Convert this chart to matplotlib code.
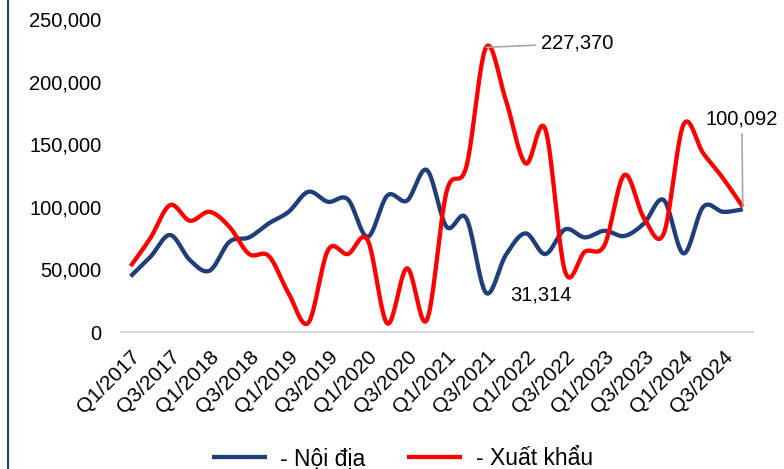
import numpy as np
import matplotlib

matplotlib.use("Agg")
import matplotlib.pyplot as plt  # noqa: E402
from matplotlib.lines import Line2D  # noqa: E402
from matplotlib.ticker import FuncFormatter  # noqa: E402

plt.rcParams["font.family"] = ["Liberation Sans", "DejaVu Sans"]

# Quy: Q1/2017 .. Q4/2024
quarters = [f"Q{q}/{y}" for y in range(2017, 2025) for q in range(1, 5)]

noi_dia = [44500, 60000, 77500, 57500, 49000, 72000, 75600, 86800,
           96000, 112000, 104000, 106000, 76000, 109000, 105000, 129400,
           84100, 90800, 31314, 61500, 78800, 62300, 82000, 75600,
           80900, 76700, 86800, 105400, 62800, 100000, 96000, 98000]

xuat_khau = [52700, 75000, 101400, 88900, 96000, 84100, 62300, 60700,
             30900, 7400, 65500, 62300, 73500, 6900, 50900, 9600,
             112000, 132000, 227370, 185300, 134700, 162000, 48500, 64100,
             69500, 125400, 91000, 78800, 165700, 142700, 122800, 100092]

COL_NOI_DIA = "#1f3e7c"
COL_XUAT_KHAU = "#ff0000"


def smooth(y, n=24):
    """Duong cong muot kieu Catmull-Rom (giong 'smoothed line' cua Excel)."""
    y = np.asarray(y, dtype=float)
    x = np.arange(len(y), dtype=float)
    px = np.concatenate([[x[0]], x, [x[-1]]])
    py = np.concatenate([[y[0]], y, [y[-1]]])
    xs, ys = [], []
    t = np.linspace(0, 1, n, endpoint=False)
    for i in range(1, len(px) - 2):
        p0, p1, p2, p3 = (np.array([px[j], py[j]]) for j in (i - 1, i, i + 1, i + 2))
        c1 = p1 + (p2 - p0) / 6
        c2 = p2 - (p3 - p1) / 6
        b = ((1 - t) ** 3)[:, None] * p1 + (3 * (1 - t) ** 2 * t)[:, None] * c1 \
            + (3 * (1 - t) * t ** 2)[:, None] * c2 + (t ** 3)[:, None] * p2
        xs.extend(b[:, 0])
        ys.extend(b[:, 1])
    xs.append(x[-1])
    ys.append(y[-1])
    return np.array(xs), np.array(ys)


fig = plt.figure(figsize=(7.84, 4.69), dpi=100)
ax = fig.add_axes([0.154, 0.292, 0.806, 0.6675])

x1, y1 = smooth(noi_dia)
x2, y2 = smooth(xuat_khau)
ax.plot(x1, y1, color=COL_NOI_DIA, lw=3.1, solid_capstyle="butt", label="- Nội địa")
ax.plot(x2, y2, color=COL_XUAT_KHAU, lw=3.1, solid_capstyle="butt", label="- Xuất khẩu")

ax.set_xlim(-0.5, len(quarters) - 0.5)
ax.set_ylim(0, 250000)
ax.set_yticks(range(0, 250001, 50000))
ax.yaxis.set_major_formatter(FuncFormatter(lambda v, _: f"{int(v):,}"))
ax.set_xticks(range(0, len(quarters), 2))
ax.set_xticklabels(quarters[::2], rotation=45, ha="right", va="top",
                   rotation_mode="anchor", fontsize=15)
ax.tick_params(axis="y", length=0, pad=14, labelsize=14.5)
ax.tick_params(axis="x", length=0, pad=11)

for s in ("left", "right", "top"):
    ax.spines[s].set_visible(False)
ax.spines["bottom"].set_color("#d9d9d9")
ax.spines["bottom"].set_linewidth(1.5)

# Nhan du lieu
i_max = int(np.argmax(xuat_khau))
ax.annotate(f"{xuat_khau[i_max]:,}", xy=(i_max, xuat_khau[i_max]),
            xytext=(55, 4), textcoords="offset pixels", ha="left", va="center",
            fontsize=14.5,
            arrowprops=dict(arrowstyle="-", color="#a6a6a6", lw=1.2,
                            shrinkA=2, shrinkB=0))
i_min = int(np.argmin(noi_dia))
ax.annotate(f"{noi_dia[i_min]:,}", xy=(i_min, noi_dia[i_min]),
            xytext=(55, -2), textcoords="offset pixels", ha="center", va="center",
            fontsize=14.5)
i_last = len(xuat_khau) - 1
ax.annotate(f"{xuat_khau[i_last]:,}", xy=(i_last, xuat_khau[i_last]),
            xytext=(-1, 88), textcoords="offset pixels", ha="center", va="center",
            fontsize=14.5, annotation_clip=False,
            arrowprops=dict(arrowstyle="-", color="#a6a6a6", lw=1.2,
                            shrinkA=2, shrinkB=0))

fig.legend(loc="center", bbox_to_anchor=(0.513, 0.022), ncol=2, frameon=False,
           fontsize=16.5, handlelength=2.4, columnspacing=1.8, handletextpad=0.6)

# vien trai
fig.add_artist(Line2D([8 / 784, 8 / 784], [0, 1], color="#1f3e7c", lw=1.5))

fig.savefig("out.png", dpi=100)
